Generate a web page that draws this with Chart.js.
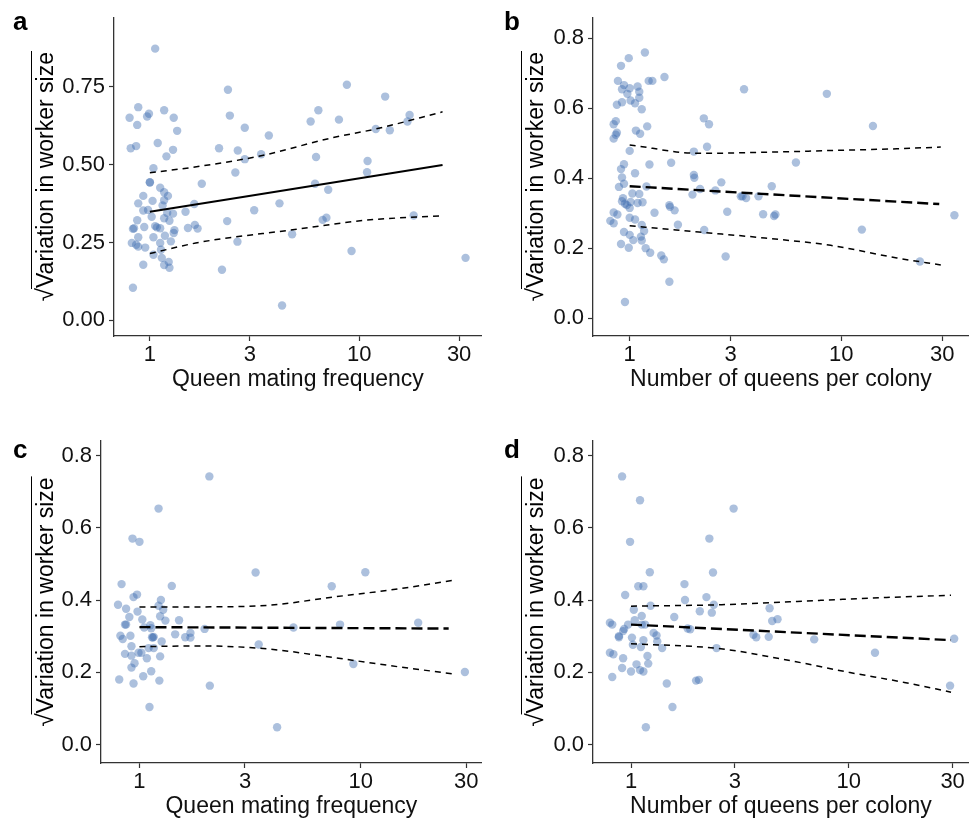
<!DOCTYPE html>
<html>
<head>
<meta charset="utf-8">
<script src="https://cdn.jsdelivr.net/npm/chart.js@4.4.1/dist/chart.umd.min.js"></script>
<style>
  body { margin: 0; background: #fff; width: 973px; height: 818px; position: relative; overflow: hidden; }
  .panel { position: absolute; }
</style>
</head>
<body>
<div class="panel" style="left:0;top:0;width:486px;height:395px"><canvas id="chart-a"></canvas></div>
<div class="panel" style="left:490px;top:0;width:483px;height:395px"><canvas id="chart-b"></canvas></div>
<div class="panel" style="left:0;top:410px;width:486px;height:412px"><canvas id="chart-c"></canvas></div>
<div class="panel" style="left:490px;top:410px;width:483px;height:412px"><canvas id="chart-d"></canvas></div>
<script>
// tick values and labels
const xTicks = [1, 3, 10, 30];
const xTickLabels = ['1', '3', '10', '30'];
const yTicksA = [0, 0.25, 0.5, 0.75];
const yTickLabelsA = ['0.00', '0.25', '0.50', '0.75'];
const yTicks = [0, 0.2, 0.4, 0.6, 0.8];
const yTickLabels = ['0.0', '0.2', '0.4', '0.6', '0.8'];

const yTitle = 'Variation in worker size';
const matingTitle = 'Queen mating frequency';
const queensTitle = 'Number of queens per colony';

// panel a: queen mating frequency vs sqrt variation
const aMating = [1.06,0.80,0.88,0.99,0.97,0.87,0.81,0.86,1.17,1.30,1.35,1.09,1.29,1.20,1.04,1.00,1.00,1.77,1.12,1.17,
  1.22,1.17,0.93,1.03,0.88,0.98,0.93,1.15,1.63,1.48,1.02,1.21,1.29,1.17,1.24,0.87,0.94,0.84,0.83,1.06,
  1.08,1.12,1.31,1.30,1.52,1.64,1.69,0.88,1.04,1.18,1.12,1.26,0.82,0.86,0.88,0.95,1.13,1.04,1.14,0.93,
  1.17,1.23,1.24,0.83,2.21,2.62,2.34,2.56,2.63,2.84,2.14,2.41,2.36,2.84,3.40,3.70,3.15,4.16,4.78,4.28,
  5.86,6.38,6.22,6.15,7.11,6.69,6.97,8.0,8.73,9.19,10.96,10.9,12.0,13.3,14.0,17.0,17.4,18.2,32.2];
const aSize = [0.873,0.651,0.685,0.664,0.655,0.628,0.553,0.56,0.675,0.651,0.609,0.57,0.548,0.527,0.489,0.444,0.443,0.439,0.426,0.412,
  0.40,0.386,0.40,0.384,0.376,0.355,0.353,0.369,0.374,0.349,0.333,0.345,0.343,0.328,0.32,0.322,0.30,0.296,0.294,0.303,
  0.299,0.296,0.29,0.281,0.297,0.307,0.295,0.267,0.267,0.272,0.249,0.254,0.249,0.243,0.237,0.234,0.227,0.211,0.201,0.179,
  0.178,0.188,0.169,0.105,0.163,0.253,0.319,0.475,0.546,0.518,0.553,0.658,0.741,0.619,0.534,0.594,0.354,0.376,0.277,0.048,
  0.639,0.675,0.525,0.439,0.42,0.323,0.33,0.645,0.757,0.223,0.512,0.476,0.615,0.719,0.611,0.639,0.66,0.337,0.201];
const aFitX = [1, 25];
const aFitY = [0.349, 0.499];
const aUpperX = [1, 1.73, 3.4, 7.46, 12, 25];
const aUpperY = [0.474, 0.495, 0.529, 0.587, 0.615, 0.670];
const aLowerX = [1, 1.73, 4.81, 10.8, 25];
const aLowerY = [0.215, 0.251, 0.291, 0.322, 0.336];

// panel b: queens per colony vs sqrt variation
const bQueens = [1.18,0.99,0.91,0.88,0.94,0.92,0.975,1.0,1.09,1.11,1.11,1.23,1.28,1.46,0.92,1.01,1.06,0.87,1.14,0.86,
  0.84,0.87,0.86,0.84,1.07,1.12,1.21,1.0,0.94,0.91,0.92,0.94,0.89,1.06,1.24,1.2,1.03,1.11,1.15,1.09,
  0.93,0.92,0.95,1.01,1.0,0.97,0.84,0.875,0.81,0.84,1.0,1.06,1.14,1.17,1.31,0.94,1.0,1.04,1.14,1.13,
  0.91,0.99,1.19,1.25,1.41,1.45,1.54,0.95,1.54,1.55,1.63,1.69,1.57,2.01,2.01,2.02,1.98,2.15,2.24,2.37,
  2.32,2.25,2.54,2.71,2.89,2.84,3.47,3.35,3.41,3.55,4.06,4.27,4.69,4.81,4.88,6.1,8.54,12.5,14.1,23.5,34.2];
const bSize = [0.759,0.743,0.721,0.678,0.666,0.654,0.641,0.657,0.662,0.647,0.63,0.678,0.678,0.689,0.617,0.622,0.614,0.61,0.597,0.563,
  0.554,0.53,0.524,0.513,0.536,0.527,0.548,0.478,0.44,0.426,0.402,0.384,0.375,0.414,0.439,0.376,0.356,0.355,0.331,0.329,
  0.343,0.334,0.327,0.332,0.315,0.323,0.302,0.296,0.278,0.271,0.287,0.282,0.266,0.249,0.301,0.246,0.238,0.223,0.222,0.233,
  0.212,0.201,0.20,0.187,0.179,0.168,0.104,0.046,0.323,0.318,0.308,0.267,0.444,0.476,0.409,0.401,0.353,0.369,0.571,0.554,
  0.49,0.252,0.365,0.388,0.304,0.176,0.654,0.348,0.348,0.343,0.348,0.297,0.377,0.292,0.296,0.445,0.641,0.253,0.549,0.162,0.294];
const bFitX = [1, 29];
const bFitY = [0.377, 0.326];
const bUpperX = [1, 2.12, 4.35, 8.9, 18.3, 29.5];
const bUpperY = [0.495, 0.471, 0.474, 0.479, 0.484, 0.489];
const bLowerX = [1, 2.12, 4.35, 8.9, 18.3, 29.5];
const bLowerY = [0.264, 0.246, 0.229, 0.208, 0.172, 0.152];

// panel c: queen mating frequency, reduced data set
const cMating = [2.07,1.22,0.93,1.0,3.35,10.5,7.4,1.40,0.83,0.975,0.94,0.80,0.87,0.98,1.25,1.22,1.28,0.90,1.03,1.24,
  1.31,1.51,0.86,0.87,1.05,1.12,1.13,1.97,1.70,1.45,1.61,1.70,8.07,4.97,18.2,0.82,0.84,0.91,1.14,1.16,
  1.15,1.26,0.92,1.10,1.16,0.99,1.02,0.86,0.92,1.08,1.24,3.46,0.95,0.92,1.04,1.13,0.81,0.94,1.23,2.08,
  1.11,9.27,29.6,4.19];
const cSize = [0.742,0.653,0.57,0.561,0.476,0.477,0.438,0.439,0.444,0.415,0.408,0.387,0.376,0.368,0.40,0.384,0.373,0.353,0.346,0.355,
  0.343,0.344,0.332,0.332,0.324,0.33,0.322,0.32,0.309,0.305,0.297,0.296,0.332,0.324,0.337,0.301,0.292,0.301,0.297,0.298,
  0.296,0.285,0.272,0.267,0.267,0.254,0.254,0.251,0.246,0.239,0.244,0.277,0.225,0.213,0.189,0.203,0.18,0.169,0.177,0.163,
  0.104,0.223,0.201,0.048];
const cFitX = [1, 25];
const cFitY = [0.325, 0.321];
const cUpperX = [1, 1.88, 3.75, 7.48, 14.9, 26];
const cUpperY = [0.381, 0.381, 0.385, 0.408, 0.431, 0.454];
const cLowerX = [1, 1.88, 3.75, 7.48, 14.9, 26];
const cLowerY = [0.271, 0.273, 0.265, 0.241, 0.215, 0.196];

// panel d: queens per colony, reduced data set
const dQueens = [0.91,1.10,2.96,0.99,2.29,1.22,2.38,1.08,1.14,1.76,0.94,2.22,1.77,1.23,2.40,1.03,2.07,2.35,4.33,1.58,
  1.12,4.45,4.71,1.04,0.80,0.82,0.97,0.93,0.92,1.12,1.16,1.82,1.87,1.27,1.31,0.88,0.88,1.01,3.65,3.76,
  4.29,6.94,30.5,1.14,1.32,1.02,1.11,1.39,2.47,0.80,0.83,1.19,0.92,1.06,1.20,0.91,1.10,1.14,1.0,0.82,
  13.2,1.46,1.99,2.05,1.55,1.17,29.2];
const dSize = [0.742,0.676,0.653,0.561,0.57,0.477,0.476,0.438,0.438,0.444,0.414,0.408,0.40,0.384,0.387,0.373,0.369,0.365,0.377,0.353,
  0.356,0.342,0.347,0.344,0.337,0.332,0.332,0.32,0.314,0.332,0.332,0.321,0.319,0.309,0.302,0.30,0.297,0.296,0.304,0.297,
  0.298,0.291,0.293,0.289,0.285,0.276,0.27,0.267,0.267,0.254,0.25,0.245,0.239,0.222,0.224,0.212,0.206,0.202,0.202,0.187,
  0.254,0.169,0.177,0.179,0.104,0.048,0.163];
const dFitX = [1, 29.5];
const dFitY = [0.332, 0.289];
const dUpperX = [1, 2.61, 7.43, 14.9, 29.5];
const dUpperY = [0.383, 0.387, 0.399, 0.407, 0.413];
const dLowerX = [1, 2.5, 5, 10, 18, 29.5];
const dLowerY = [0.279, 0.266, 0.236, 0.2, 0.172, 0.145];

const FONT = '"Liberation Sans", Arial, Helvetica, sans-serif';
const POINT_COLOR = 'rgba(58, 105, 175, 0.42)';
const AXIS_COLOR = '#333333';

function toPoints(xs, ys) {
    return xs.map((x, i) => ({ x: x, y: ys[i] }));
}

// letter, rotated sqrt axis title with its overline
const panelDecor = {
    id: 'panelDecor',
    afterDraw(chart, args, opts) {
        const { ctx, chartArea } = chart;
        ctx.save();
        ctx.fillStyle = '#000';
        ctx.font = 'bold 26px ' + FONT;
        ctx.textBaseline = 'alphabetic';
        ctx.textAlign = 'left';
        ctx.fillText(opts.letter, opts.letterX, opts.letterY);

        const cy = (chartArea.top + chartArea.bottom) / 2;
        ctx.translate(45, cy);
        ctx.rotate(-Math.PI / 2);
        ctx.font = '23px ' + FONT;
        const textW = ctx.measureText(yTitle).width;
        ctx.font = '24px ' + FONT;
        const rootW = ctx.measureText('\u221A').width;
        const start = -(textW + rootW) / 2;
        ctx.fillText('\u221A', start, 8.2);
        ctx.font = '23px ' + FONT;
        ctx.fillText(yTitle, start + rootW, 8.2);
        ctx.strokeStyle = '#000';
        ctx.lineWidth = 1;
        ctx.beginPath();
        ctx.moveTo(start + rootW - 1, -13.5);
        ctx.lineTo(start + rootW + textW + 1, -13.5);
        ctx.stroke();
        ctx.restore();
    }
};

function makePanel(canvasId, p) {
    const lineSet = (xs, ys, dash, width) => ({
        data: toPoints(xs, ys),
        showLine: true,
        borderColor: '#000',
        borderWidth: width,
        borderDash: dash,
        pointRadius: 0,
        tension: 0.4,
        cubicInterpolationMode: 'monotone',
        fill: false
    });

    return new Chart(document.getElementById(canvasId), {
        type: 'scatter',
        data: {
            datasets: [
                lineSet(p.fitX, p.fitY, p.fitDash, p.fitWidth),
                lineSet(p.upperX, p.upperY, [6, 5], 1.5),
                lineSet(p.lowerX, p.lowerY, [6, 5], 1.5),
                {
                    data: toPoints(p.xs, p.ys),
                    pointRadius: 4.2,
                    pointBackgroundColor: POINT_COLOR,
                    pointBorderWidth: 0,
                    showLine: false
                }
            ]
        },
        options: {
            responsive: true,
            maintainAspectRatio: false,
            animation: false,
            events: [],
            layout: { padding: { top: p.padTop, right: p.padRight, left: 0, bottom: 0 } },
            plugins: {
                legend: { display: false },
                tooltip: { enabled: false },
                panelDecor: { letter: p.letter, letterX: p.letterX, letterY: p.letterY }
            },
            scales: {
                x: {
                    type: 'logarithmic',
                    min: p.xMin,
                    max: p.xMax,
                    afterBuildTicks: (scale) => { scale.ticks = xTicks.map(v => ({ value: v })); },
                    afterFit: (scale) => { scale.height = 59; },
                    ticks: {
                        color: '#111',
                        font: { family: FONT, size: 22 },
                        padding: 1,
                        maxRotation: 0,
                        autoSkip: false,
                        callback: (v) => xTickLabels[xTicks.indexOf(v)]
                    },
                    grid: { drawOnChartArea: false, drawTicks: true, tickLength: 5, tickColor: AXIS_COLOR, tickWidth: 1.2 },
                    border: { display: true, color: AXIS_COLOR, width: 1.3 },
                    title: {
                        display: true,
                        text: p.xTitle,
                        color: '#111',
                        font: { family: FONT, size: 23, lineHeight: 1 },
                        padding: { top: 0, bottom: 3.5 }
                    }
                },
                y: {
                    type: 'linear',
                    min: p.yMin,
                    max: p.yMax,
                    afterBuildTicks: (scale) => { scale.ticks = p.yTicks.map(v => ({ value: v })); },
                    afterFit: (scale) => { scale.width = p.yAxisWidth; },
                    ticks: {
                        color: '#111',
                        font: { family: FONT, size: 22 },
                        padding: 4,
                        callback: (v) => p.yLabels[p.yTicks.indexOf(v)]
                    },
                    grid: { drawOnChartArea: false, drawTicks: true, tickLength: 5, tickColor: AXIS_COLOR, tickWidth: 1.2 },
                    border: { display: true, color: AXIS_COLOR, width: 1.3 }
                }
            }
        },
        plugins: [panelDecor]
    });
}

makePanel('chart-a', {
    letter: 'a', letterX: 13, letterY: 30,
    xs: aMating, ys: aSize,
    fitX: aFitX, fitY: aFitY, fitDash: [], fitWidth: 2,
    upperX: aUpperX, upperY: aUpperY, lowerX: aLowerX, lowerY: aLowerY,
    xMin: 0.674, xMax: 38.5, yMin: -0.05, yMax: 0.974,
    yTicks: yTicksA, yLabels: yTickLabelsA,
    xTitle: matingTitle, yAxisWidth: 114, padTop: 13, padRight: 3
});

makePanel('chart-b', {
    letter: 'b', letterX: 14, letterY: 30,
    xs: bQueens, ys: bSize,
    fitX: bFitX, fitY: bFitY, fitDash: [11, 5], fitWidth: 2.4,
    upperX: bUpperX, upperY: bUpperY, lowerX: bLowerX, lowerY: bLowerY,
    xMin: 0.671, xMax: 40, yMin: -0.051, yMax: 0.86,
    yTicks: yTicks, yLabels: yTickLabels,
    xTitle: queensTitle, yAxisWidth: 103, padTop: 13, padRight: 0
});

makePanel('chart-c', {
    letter: 'c', letterX: 13, letterY: 48,
    xs: cMating, ys: cSize,
    fitX: cFitX, fitY: cFitY, fitDash: [11, 5], fitWidth: 2.4,
    upperX: cUpperX, upperY: cUpperY, lowerX: cLowerX, lowerY: cLowerY,
    xMin: 0.67, xMax: 35.3, yMin: -0.051, yMax: 0.84,
    yTicks: yTicks, yLabels: yTickLabels,
    xTitle: matingTitle, yAxisWidth: 101, padTop: 31, padRight: 3
});

makePanel('chart-d', {
    letter: 'd', letterX: 14, letterY: 48,
    xs: dQueens, ys: dSize,
    fitX: dFitX, fitY: dFitY, fitDash: [11, 5], fitWidth: 2.4,
    upperX: dUpperX, upperY: dUpperY, lowerX: dLowerX, lowerY: dLowerY,
    xMin: 0.669, xMax: 35.6, yMin: -0.051, yMax: 0.84,
    yTicks: yTicks, yLabels: yTickLabels,
    xTitle: queensTitle, yAxisWidth: 103, padTop: 31, padRight: 0
});
</script>
</body>
</html>
